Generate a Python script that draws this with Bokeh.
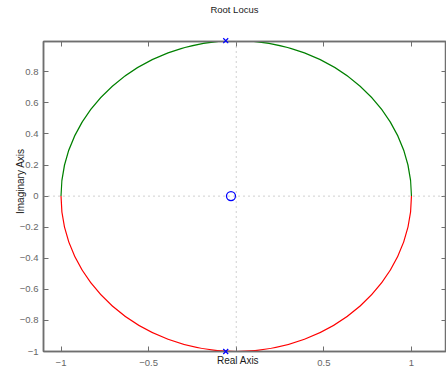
from bokeh.plotting import figure
from bokeh.models import Range1d, LinearAxis, FixedTicker, Span, CustomJSTickFormatter
from bokeh.embed import file_html
from bokeh.resources import INLINE

# ---- data ----
zero_x = [-0.03]
zero_y = [0.0]
pole_x = [-0.06, -0.06]
pole_y = [1.0, -1.0]
locus_center = (0.0, 0.0)
# branch anchor points (start -> end of each quarter arc)
upper_x0 = [-1.0, 0.0]
upper_y0 = [0.0, 1.0]
upper_x1 = [0.0, 1.0]
upper_y1 = [1.0, 0.0]
lower_x0 = [-1.0, 0.0]
lower_y0 = [0.0, -1.0]
lower_x1 = [0.0, 1.0]
lower_y1 = [-1.0, 0.0]
x_ticks = [-1, -0.5, 0, 0.5, 1]
y_ticks = [-1, -0.8, -0.6, -0.4, -0.2, 0, 0.2, 0.4, 0.6, 0.8]

FONT = "Liberation Sans"
FRAME = "#6f6f6f"
TICKLBL = "#666666"
K = 0.5523  # cubic Bezier circle approximation constant
NB = "\u00a0"


def ctrl(x0, y0, x1, y1):
    cx, cy = locus_center
    c0x = [a + K * (b - cx) for a, b in zip(x0, x1)]
    c0y = [a + K * (b - cy) for a, b in zip(y0, y1)]
    c1x = [b + K * (a - cx) for a, b in zip(x0, x1)]
    c1y = [b + K * (a - cy) for a, b in zip(y0, y1)]
    return c0x, c0y, c1x, c1y


p = figure(width=446, height=372, output_backend="svg", toolbar_location=None,
           x_range=Range1d(-1.1, 1.2), y_range=Range1d(-1.0, 0.995),
           min_border_left=43, min_border_right=0, min_border_top=41, min_border_bottom=21,
           x_axis_location=None, y_axis_location=None)
p.grid.visible = False
p.outline_line_color = FRAME
p.outline_line_width = 1.5
p.background_fill_color = "white"
p.border_fill_color = "white"

fmt = CustomJSTickFormatter(code="""
    if (Math.abs(tick) < 1e-9) { return ''; }
    return (Math.round(tick * 10) / 10).toString().replace('-', '\\u2212');
""")
fmt_y = CustomJSTickFormatter(code="""
    if (Math.abs(tick) < 1e-9) { return '0'; }
    return (Math.round(tick * 10) / 10).toString().replace('-', '\\u2212');
""")
blank = CustomJSTickFormatter(code="return '';")


def style_axis(ax, ticks, formatter, standoff):
    ax.ticker = FixedTicker(ticks=ticks)
    ax.formatter = formatter
    ax.axis_line_color = FRAME
    ax.axis_line_width = 1.5
    ax.major_tick_line_color = FRAME
    ax.major_tick_line_width = 1
    ax.major_tick_in = 5
    ax.major_tick_out = 0
    ax.minor_tick_line_color = None
    ax.major_label_text_font = FONT
    ax.major_label_text_font_size = "9.5px"
    ax.major_label_text_color = TICKLBL
    ax.major_label_standoff = standoff
    ax.axis_label_text_font = FONT
    ax.axis_label_text_font_size = "10px"
    ax.axis_label_text_font_style = "normal"
    ax.axis_label_text_color = "#1a1a1a"


bottom = LinearAxis(axis_label="Real Axis" + NB * 5)
style_axis(bottom, x_ticks, fmt, 8)
bottom.axis_label_standoff = -14
p.add_layout(bottom, "below")

top = LinearAxis(axis_label="Root Locus" + NB * 8)
style_axis(top, x_ticks, blank, 0)
top.axis_label_text_font_size = "9.5px"
top.axis_label_standoff = 27
p.add_layout(top, "above")

left = LinearAxis(axis_label=NB * 11 + "Imaginary Axis")
style_axis(left, y_ticks, fmt_y, 5)
left.axis_label_standoff = -9
p.add_layout(left, "left")

right = LinearAxis()
style_axis(right, y_ticks, blank, 0)
p.add_layout(right, "right")

# dotted reference lines through the origin
p.add_layout(Span(location=0, dimension="width", line_color="#a0a0a0", line_width=1, line_dash="1 4"))
p.add_layout(Span(location=0, dimension="height", line_color="#a0a0a0", line_width=1, line_dash="1 4"))

# locus branches
c0x, c0y, c1x, c1y = ctrl(upper_x0, upper_y0, upper_x1, upper_y1)
p.bezier(x0=upper_x0, y0=upper_y0, x1=upper_x1, y1=upper_y1,
         cx0=c0x, cy0=c0y, cx1=c1x, cy1=c1y, line_color="#008000", line_width=1.2)
c0x, c0y, c1x, c1y = ctrl(lower_x0, lower_y0, lower_x1, lower_y1)
p.bezier(x0=lower_x0, y0=lower_y0, x1=lower_x1, y1=lower_y1,
         cx0=c0x, cy0=c0y, cx1=c1x, cy1=c1y, line_color="#ff0000", line_width=1.2)

# poles and zero (drawn on the overlay level so the poles on the frame edge stay whole)
p.scatter(pole_x, pole_y, marker="x", size=7, line_color="#0000ff", line_width=1.2,
          level="overlay")
p.scatter(zero_x, zero_y, marker="circle", size=9, line_color="#0000ff",
          fill_color=None, line_width=1.3)

open("out.html", "w").write(file_html(p, INLINE))
